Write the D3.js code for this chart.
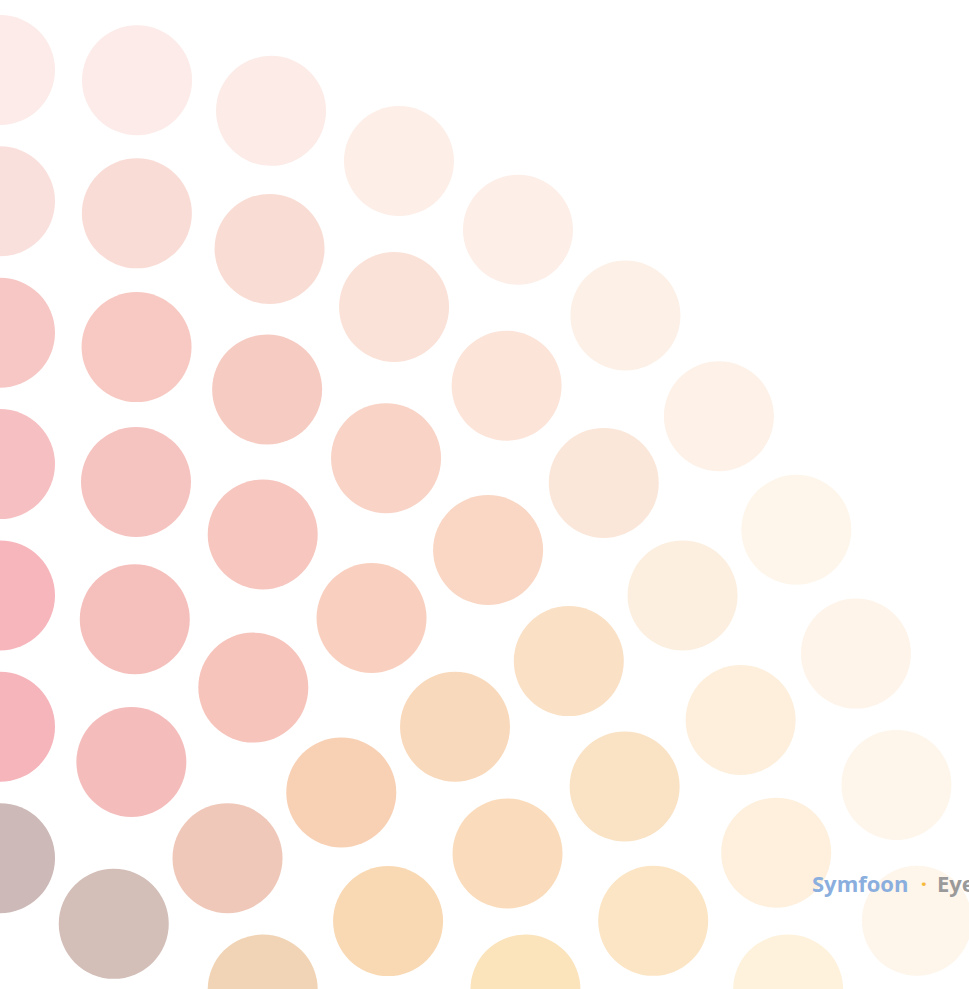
<!DOCTYPE html>
<html>
<head>
<meta charset="utf-8">
<script src="https://cdn.jsdelivr.net/npm/d3@7"></script>
<style>
  html, body { margin: 0; padding: 0; background: #fff; overflow: hidden; }
</style>
</head>
<body>
<div id="chart"></div>
<script>
// rings of dots, ring k has 6*k dots around the full turn; only the visible quarter is listed
const ring1 = ['#cdb9b7', '#d3beb8'];
const ring2 = ['#f6b4bb', '#f4bdbc', '#efc8b9', '#f1d4b5'];
const ring3 = ['#f6b6bc', '#f5bfbc', '#f6c4bb', '#f8d0b4', '#f9d9b3'];
const ring4 = ['#f6c0c2', '#f6c4c0', '#f6c6bf', '#f9d0bf', '#f9d9bb', '#fadcbc', '#fbe3bb'];
const ring5 = ['#f6c7c4', '#f7c9c2', '#f6cbc2', '#f8d3c6', '#f9d7c4', '#fae0c5', '#fae2c4', '#fce5c4'];
const ring6 = ['#fae0dc', '#f9dcd6', '#f9ddd4', '#fbe2d8', '#fce4d9', '#fbe7d9', '#fcefdf', '#fdefdc', '#fef0dd', '#fef2dd'];
const ring7 = ['#fcebe8', '#fcebe8', '#fcebe6', '#fdeee7', '#fdeee7', '#fdf0e7', '#fdf1e8', '#fef6eb', '#fef4ea', '#fef5eb', '#fef5eb'];
const rings = [ring1, ring2, ring3, ring4, ring5, ring6, ring7];

const brand = 'Symfoon';
const sep = '·';
const tail = 'Eye';

const w = 969, h = 989;
const cx = 0, cy = 989.5;   // center of the rings sits at the bottom-left corner
const dotR = 55;

const svg = d3.select('#chart')
    .append('svg')
    .attr('width', w)
    .attr('height', h);

// ring number -> distance from center
const rScale = d3.scaleLinear()
    .domain([0, rings.length])
    .range([0, 919.5]);

let dots = [];
rings.forEach((cols, i) => {
    let k = i + 1;
    // dot index -> angle (0 = straight up, clockwise)
    let aScale = d3.scaleLinear().domain([0, 6 * k]).range([0, 2 * Math.PI]);
    cols.forEach((c, j) => {
        dots.push({ ring: k, r: rScale(k), a: aScale(j), color: c });
    });
});

svg.append('g')
    .selectAll('circle')
    .data(dots)
    .enter()
    .append('circle')
    .attr('cx', (d) => cx + d.r * Math.sin(d.a))
    .attr('cy', (d) => cy - d.r * Math.cos(d.a))
    .attr('r', dotR)
    .attr('fill', (d) => d.color);

// watermark (runs off the right edge like the original)
let wm = svg.append('g')
    .attr('font-family', '"Open Sans", "Noto Sans", sans-serif')
    .attr('font-weight', 'bold')
    .attr('font-size', '22px');
wm.append('text').attr('x', 812).attr('y', 892).attr('fill', '#8aaedd').text(brand);
wm.append('text').attr('x', 924).attr('y', 892).attr('text-anchor', 'middle')
    .attr('fill', '#f6b93a').text(sep);
wm.append('text').attr('x', 937).attr('y', 892).attr('fill', '#9a9a9a').text(tail);
</script>
</body>
</html>
